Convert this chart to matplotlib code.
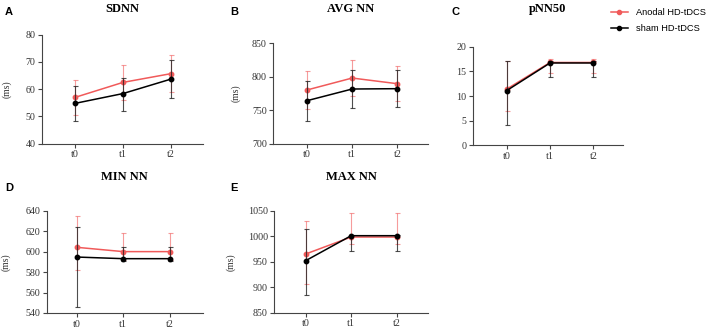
import matplotlib.pyplot as plt
from matplotlib.lines import Line2D

# time points
time_points = ["t0", "t1", "t2"]

# SDNN
sdnn_anodal = [57.0, 62.5, 65.7]
sdnn_anodal_lo = [50.4, 56.2, 59.1]
sdnn_anodal_hi = [63.4, 68.8, 72.4]
sdnn_sham = [54.8, 58.4, 63.7]
sdnn_sham_lo = [48.4, 52.1, 56.8]
sdnn_sham_hi = [61.2, 64.2, 70.6]

# AVG NN
avg_anodal = [780.2, 798.1, 789.6]
avg_anodal_lo = [752.3, 770.8, 764.2]
avg_anodal_hi = [808.6, 825.5, 815.6]
avg_sham = [764.2, 781.7, 782.2]
avg_sham_lo = [734.3, 752.8, 754.3]
avg_sham_hi = [794.0, 810.1, 810.6]

# pNN50
pnn_anodal = [11.4, 16.8, 16.8]
pnn_anodal_lo = [7.0, 14.7, 14.7]
pnn_anodal_hi = [17.0, 17.5, 17.5]
pnn_sham = [11.1, 16.7, 16.7]
pnn_sham_lo = [4.1, 13.9, 13.9]
pnn_sham_hi = [17.0, 17.2, 17.2]

# MIN NN
min_anodal = [604.2, 600.0, 600.0]
min_anodal_lo = [581.7, 592.0, 592.0]
min_anodal_hi = [634.8, 618.5, 618.5]
min_sham = [594.7, 593.1, 593.1]
min_sham_lo = [545.6, 590.8, 590.8]
min_sham_hi = [623.8, 604.8, 604.8]

# MAX NN
max_anodal = [965.1, 998.4, 998.4]
max_anodal_lo = [905.7, 984.0, 984.0]
max_anodal_hi = [1029.8, 1045.5, 1045.5]
max_sham = [952.0, 1001.0, 1001.0]
max_sham_lo = [884.7, 971.0, 971.0]
max_sham_hi = [1014.7, 1002.0, 1002.0]

RED = "#F05A5A"
BLACK = "#000000"
SERIF = "Liberation Serif"
SANS = "Liberation Sans"
W, H = 708, 332

fig = plt.figure(figsize=(W / 100, H / 100), dpi=100)


def make_axes(l, r, t, b):
    return fig.add_axes([l / W, 1 - b / H, (r - l) / W, (b - t) / H])


def draw_panel(box, xlim, ylim, step, letter, letter_xy, title, title_y,
               an, an_lo, an_hi, sh, sh_lo, sh_hi, ylabel_dx=None):
    l, r, t, b = box
    ax = make_axes(l, r, t, b)
    x = range(len(time_points))

    # Anodal (drawn first, sham on top)
    ax.errorbar(x, an, yerr=[[m - lo for m, lo in zip(an, an_lo)],
                             [hi - m for m, hi in zip(an, an_hi)]],
                fmt="none", ecolor=RED, elinewidth=0.8, capsize=1.8,
                capthick=0.8, alpha=0.6, zorder=2)
    ax.plot(x, an, color=RED, lw=1.1, marker="o", ms=3.2, zorder=3)
    ax.errorbar(x, sh, yerr=[[m - lo for m, lo in zip(sh, sh_lo)],
                             [hi - m for m, hi in zip(sh, sh_hi)]],
                fmt="none", ecolor="#222222", elinewidth=0.8, capsize=1.8,
                capthick=0.8, alpha=0.8, zorder=4)
    ax.plot(x, sh, color=BLACK, lw=1.1, marker="o", ms=3.2, zorder=5)

    ax.set_xlim(*xlim)
    ax.set_ylim(*ylim)
    ax.set_yticks(range(ylim[0], ylim[1] + 1, step))
    ax.set_xticks(list(x))
    ax.set_xticklabels(time_points)
    for s in ["top", "right"]:
        ax.spines[s].set_visible(False)
    for s in ["left", "bottom"]:
        ax.spines[s].set_color("#444444")
        ax.spines[s].set_linewidth(0.8)
    ax.tick_params(length=3.2, width=0.8, color="#444444", pad=1.5,
                   labelsize=7.2, labelcolor="#333333")
    for lab in ax.get_xticklabels() + ax.get_yticklabels():
        lab.set_fontfamily(SERIF)

    if ylabel_dx is not None:
        ax.set_ylabel("(ms)", fontsize=7, family=SERIF, color="#333333")
        ax.yaxis.set_label_coords(-ylabel_dx / (r - l), 0.5)

    fig.text((l + r) / 2 / W, 1 - title_y / H, title, ha="center", va="center",
             fontsize=9, fontweight="bold", family=SERIF)
    fig.text(letter_xy[0] / W, 1 - letter_xy[1] / H, letter, ha="center",
             va="center", fontsize=8, fontweight="bold", family=SANS)
    return ax


draw_panel((42, 203, 34.7, 143.7), (-0.69, 2.67), (40, 80), 10, "A", (9, 12.3),
           "SDNN", 9, sdnn_anodal, sdnn_anodal_lo, sdnn_anodal_hi,
           sdnn_sham, sdnn_sham_lo, sdnn_sham_hi, ylabel_dx=30)
draw_panel((273.3, 428.3, 43.3, 143.7), (-0.74, 2.68), (700, 850), 50, "B", (234, 12),
           "AVG NN", 9, avg_anodal, avg_anodal_lo, avg_anodal_hi,
           avg_sham, avg_sham_lo, avg_sham_hi, ylabel_dx=33)
draw_panel((472.7, 623.3, 46.7, 145.3), (-0.785, 2.69), (0, 20), 5, "C", (456, 11.7),
           "pNN50", 9, pnn_anodal, pnn_anodal_lo, pnn_anodal_hi,
           pnn_sham, pnn_sham_lo, pnn_sham_hi)
draw_panel((46.7, 203, 210.7, 313), (-0.65, 2.72), (540, 640), 20, "D", (9, 188),
           "MIN NN", 177, min_anodal, min_anodal_lo, min_anodal_hi,
           min_sham, min_sham_lo, min_sham_hi, ylabel_dx=36)
draw_panel((274.3, 428, 210.7, 312.7), (-0.69, 2.69), (850, 1050), 50, "E", (233.5, 188),
           "MAX NN", 177, max_anodal, max_anodal_lo, max_anodal_hi,
           max_sham, max_sham_lo, max_sham_hi, ylabel_dx=39)

handles = [Line2D([], [], color=RED, lw=1.1, marker="o", ms=3),
           Line2D([], [], color=BLACK, lw=1.1, marker="o", ms=3)]
fig.legend(handles, ["Anodal HD-tDCS", "sham HD-tDCS"], loc="upper left",
           bbox_to_anchor=(611 / W, 1 - 8 / H), frameon=False, borderpad=0,
           borderaxespad=0, handlelength=1.8, handletextpad=0.85,
           labelspacing=0.75, prop={"family": SANS, "size": 6.7})

fig.savefig("out.png", dpi=100)
